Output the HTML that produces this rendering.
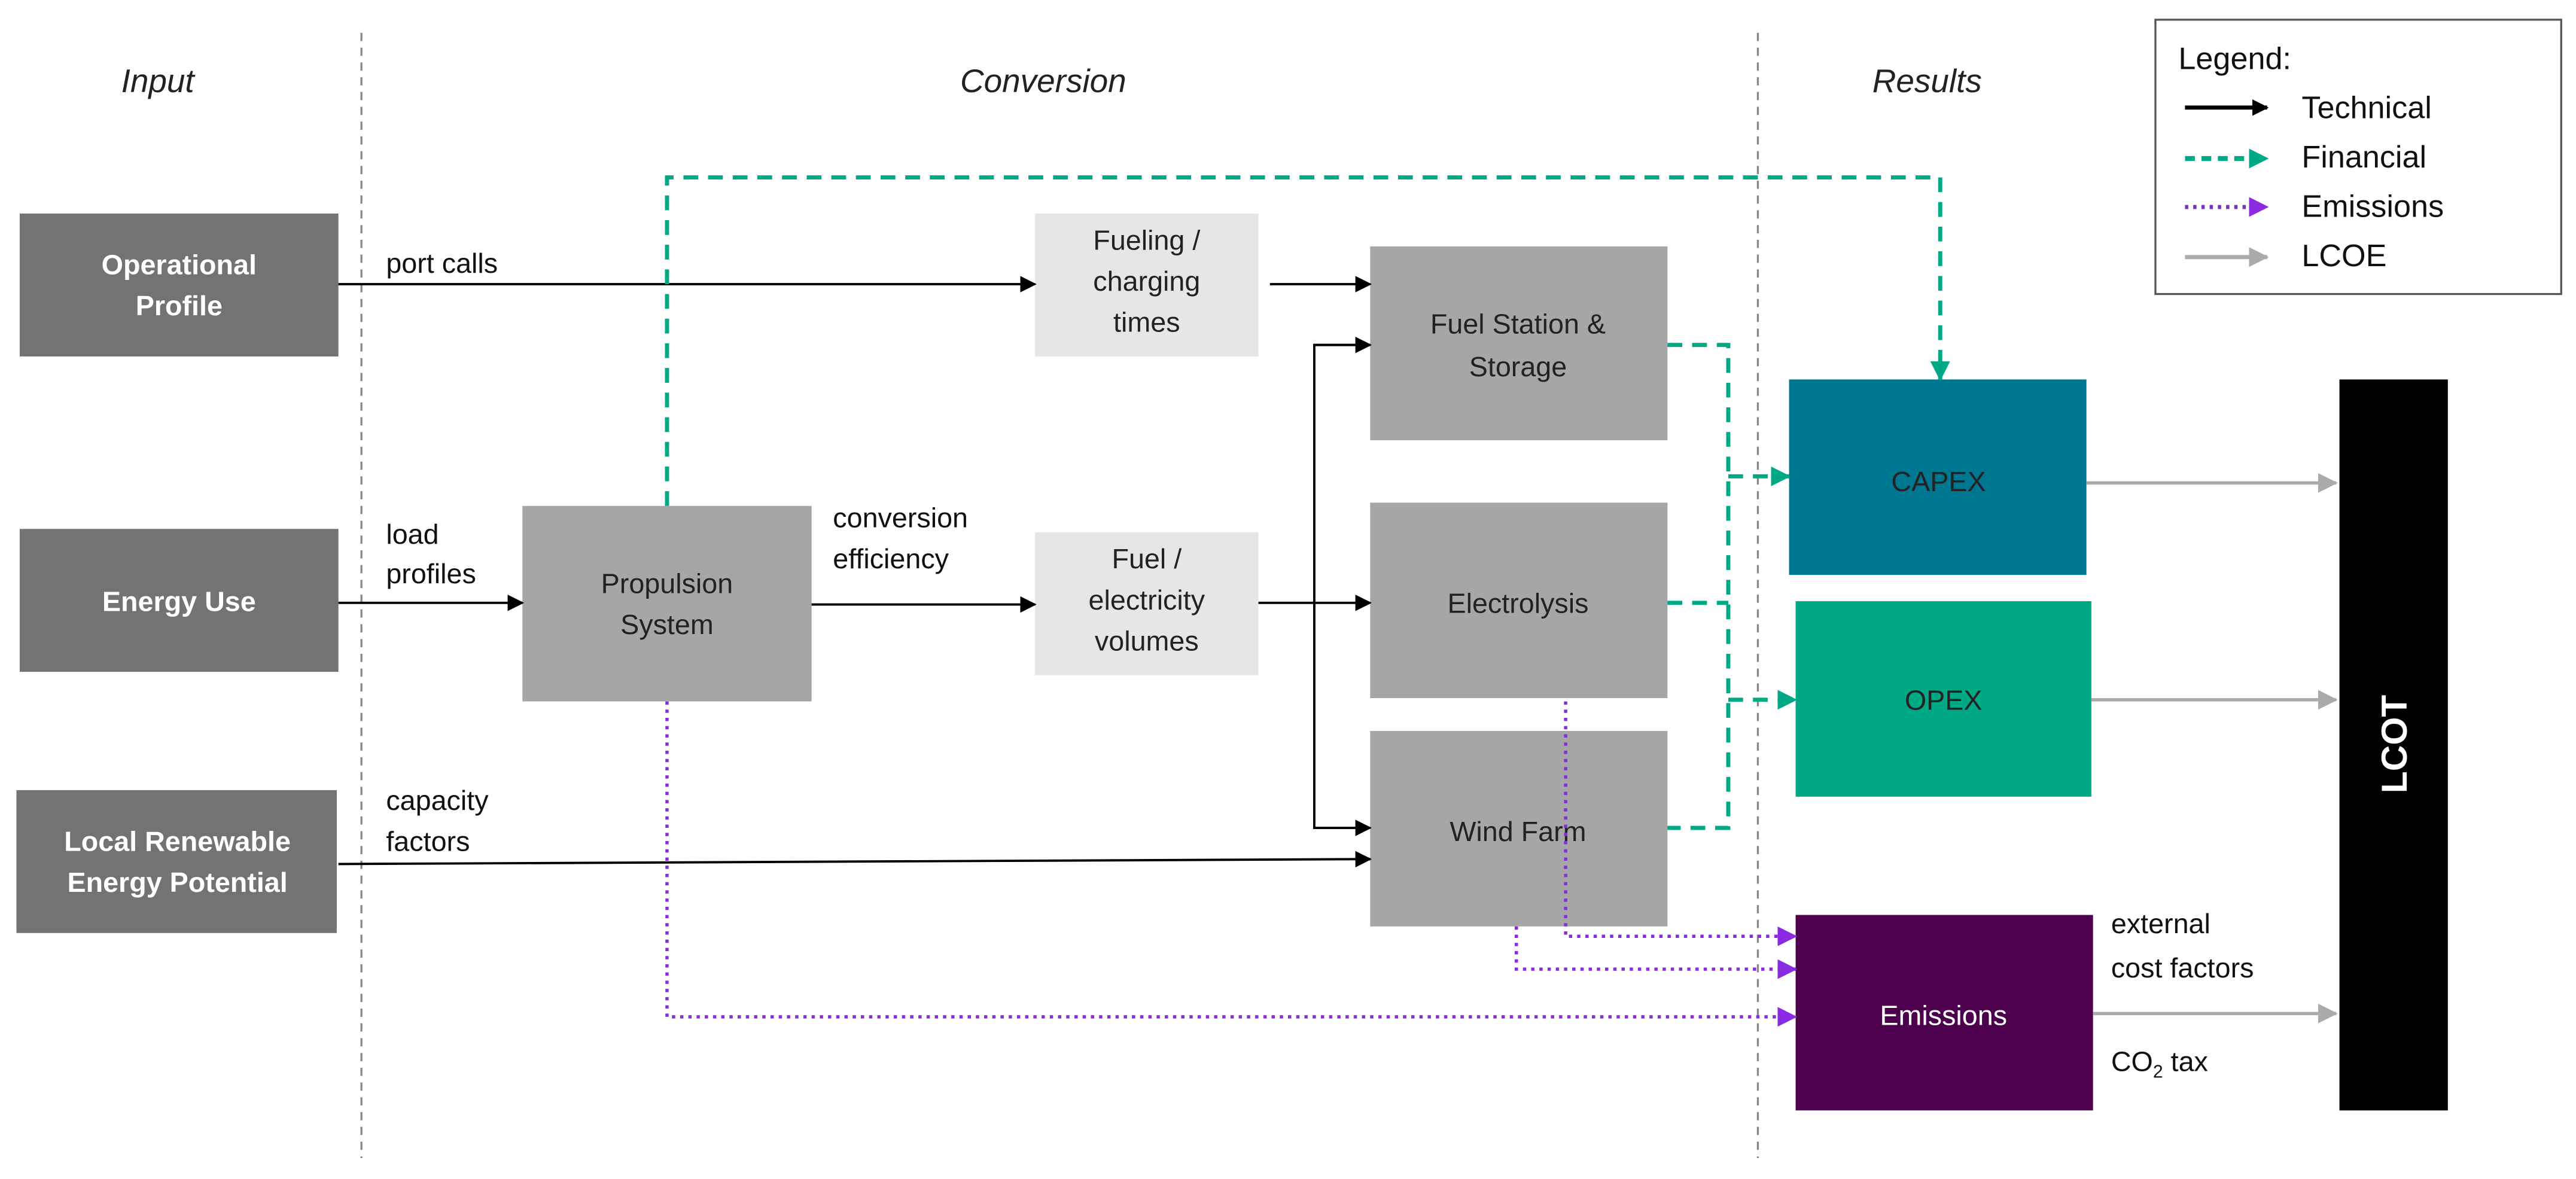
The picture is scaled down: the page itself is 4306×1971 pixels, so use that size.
<!DOCTYPE html>
<html><head><meta charset="utf-8"><style>
html,body{margin:0;padding:0;background:#fff}
svg{display:block}
text{font-family:"Liberation Sans",sans-serif}
</style></head><body>
<svg width="4306" height="1971" viewBox="0 0 1568 717.75" preserveAspectRatio="none" xmlns="http://www.w3.org/2000/svg">
<defs>
<marker id="ak" markerWidth="10" markerHeight="10" refX="9" refY="5" orient="auto" markerUnits="userSpaceOnUse"><path d="M0,0 L10,5 L0,10 z" fill="#000"/></marker>
<marker id="ag" markerWidth="12" markerHeight="12" refX="11" refY="6" orient="auto" markerUnits="userSpaceOnUse"><path d="M0,0 L12,6 L0,12 z" fill="#00a986"/></marker>
<marker id="ap" markerWidth="12" markerHeight="12" refX="11" refY="6" orient="auto" markerUnits="userSpaceOnUse"><path d="M0,0 L12,6 L0,12 z" fill="#8a2be2"/></marker>
<marker id="ay" markerWidth="12" markerHeight="12" refX="11" refY="6" orient="auto" markerUnits="userSpaceOnUse"><path d="M0,0 L12,6 L0,12 z" fill="#aaa"/></marker>
</defs>
<line x1="220" y1="20" x2="220" y2="705" stroke="#888" stroke-width="1.2" stroke-dasharray="5,4"/>
<line x1="1070" y1="20" x2="1070" y2="705" stroke="#888" stroke-width="1.2" stroke-dasharray="5,4"/>
<g font-style="italic" font-size="20" fill="#222" text-anchor="middle">
<text x="96" y="56">Input</text><text x="635" y="56">Conversion</text><text x="1173" y="56">Results</text></g>
<!-- legend -->
<rect x="1312" y="12" width="247" height="167" fill="#fff" stroke="#555" stroke-width="1.2"/>
<g font-size="19" fill="#111">
<text x="1326" y="42">Legend:</text>
<text x="1401" y="72">Technical</text><text x="1401" y="102">Financial</text><text x="1401" y="132">Emissions</text><text x="1401" y="162">LCOE</text></g>
<line x1="1330" y1="65.5" x2="1380" y2="65.5" stroke="#000" stroke-width="2.5" marker-end="url(#ak)"/>
<line x1="1330" y1="96.5" x2="1380" y2="96.5" stroke="#00a986" stroke-width="3" stroke-dasharray="6,4" marker-end="url(#ag)"/>
<line x1="1330" y1="126" x2="1380" y2="126" stroke="#7b2fbf" stroke-width="2.5" stroke-dasharray="2,3" marker-end="url(#ap)"/>
<line x1="1330" y1="156.5" x2="1380" y2="156.5" stroke="#aaa" stroke-width="2.5" marker-end="url(#ay)"/>
<g>
<rect x="12" y="130" width="194" height="87" fill="#737373"/>
<rect x="12" y="322" width="194" height="87" fill="#737373"/>
<rect x="10" y="481" width="195" height="87" fill="#737373"/>
<rect x="318" y="308" width="176" height="119" fill="#a6a6a6"/>
<rect x="630" y="130" width="136" height="87" fill="#e6e6e6"/>
<rect x="630" y="324" width="136" height="87" fill="#e6e6e6"/>
<rect x="834" y="150" width="181" height="118" fill="#a6a6a6"/>
<rect x="834" y="306" width="181" height="119" fill="#a6a6a6"/>
<rect x="834" y="445" width="181" height="119" fill="#a6a6a6"/>
<rect x="1089" y="231" width="181" height="119" fill="#007791"/>
<rect x="1093" y="366" width="180" height="119" fill="#00a986"/>
<rect x="1093" y="557" width="181" height="119" fill="#4d004d"/>
<rect x="1424" y="231" width="66" height="445" fill="#000"/>
</g>
<g font-size="17" font-weight="bold" fill="#fff" text-anchor="middle">
<text x="109" y="167">Operational</text><text x="109" y="192">Profile</text>
<text x="109" y="372">Energy Use</text>
<text x="108" y="518">Local Renewable</text><text x="108" y="543">Energy Potential</text>
</g>
<g font-size="17" fill="#222" text-anchor="middle">
<text x="406" y="361">Propulsion</text><text x="406" y="386">System</text>
<text x="698" y="152">Fueling /</text><text x="698" y="177">charging</text><text x="698" y="202">times</text>
<text x="698" y="346">Fuel /</text><text x="698" y="371">electricity</text><text x="698" y="396">volumes</text>
<text x="924" y="203">Fuel Station &amp;</text><text x="924" y="229">Storage</text>
<text x="924" y="373">Electrolysis</text>
<text x="924" y="512">Wind Farm</text>
<text x="1180" y="299">CAPEX</text>
<text x="1183" y="432">OPEX</text>
<text x="1183" y="624" fill="#fff">Emissions</text>
</g>
<text transform="translate(1465,453) rotate(-90)" font-size="22" font-weight="bold" fill="#fff" text-anchor="middle">LCOT</text>
<g font-size="17" fill="#111">
<text x="235" y="166">port calls</text>
<text x="235" y="331">load</text><text x="235" y="355">profiles</text>
<text x="507" y="321">conversion</text><text x="507" y="346">efficiency</text>
<text x="235" y="493">capacity</text><text x="235" y="518">factors</text>
<text x="1285" y="568">external</text><text x="1285" y="595">cost factors</text>
<text x="1285" y="652">CO<tspan font-size="11" dy="4">2</tspan><tspan dy="-4"> tax</tspan></text>
</g>
<g stroke="#000" stroke-width="1.4" fill="none">
<line x1="206" y1="173" x2="630" y2="173" marker-end="url(#ak)"/>
<line x1="773" y1="173" x2="834" y2="173" marker-end="url(#ak)"/>
<line x1="206" y1="367" x2="318" y2="367" marker-end="url(#ak)"/>
<line x1="494" y1="368" x2="630" y2="368" marker-end="url(#ak)"/>
<line x1="766" y1="367" x2="834" y2="367" marker-end="url(#ak)"/>
<polyline points="834,210 800,210 800,504 834,504" marker-end="url(#ak)"/>
<line x1="800" y1="210" x2="834" y2="210" marker-end="url(#ak)"/>
<line x1="206" y1="526" x2="834" y2="523" marker-end="url(#ak)"/>
</g>
<g stroke="#00a986" stroke-width="2.5" stroke-dasharray="9,6" fill="none">
<polyline points="406,308 406,108 1181,108 1181,231" marker-end="url(#ag)"/>
<polyline points="1015,210 1052,210 1052,504 1015,504"/>
<line x1="1015" y1="367" x2="1052" y2="367"/>
<line x1="1052" y1="290" x2="1089" y2="290" marker-end="url(#ag)"/>
<line x1="1052" y1="426" x2="1093" y2="426" marker-end="url(#ag)"/>
</g>
<g stroke="#8a2be2" stroke-width="2" stroke-dasharray="2,3" fill="none">
<polyline points="406,427 406,619 1093,619" marker-end="url(#ap)"/>
<polyline points="953,427 953,570 1093,570" marker-end="url(#ap)"/>
<polyline points="923,564 923,590 1093,590" marker-end="url(#ap)"/>
</g>
<g stroke="#aaa" stroke-width="2" fill="none">
<line x1="1270" y1="294" x2="1422" y2="294" marker-end="url(#ay)"/>
<line x1="1273" y1="426" x2="1422" y2="426" marker-end="url(#ay)"/>
<line x1="1274" y1="617" x2="1422" y2="617" marker-end="url(#ay)"/>
</g>
</svg>
</body></html>
